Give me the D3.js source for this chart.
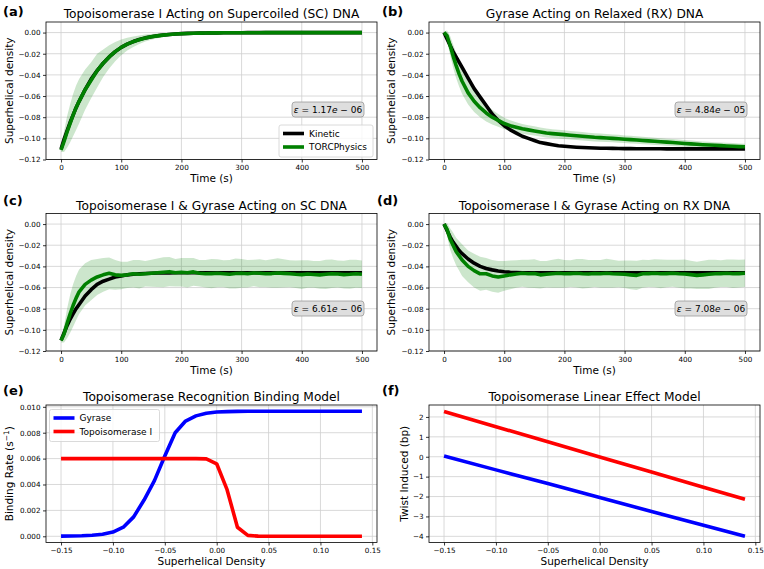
<!DOCTYPE html>
<html>
<head>
<meta charset="utf-8">
<script src="https://cdn.jsdelivr.net/npm/d3@7"></script>
<style>
  body { margin: 0; background: #fff; }
  svg { display: block; font-family: "DejaVu Sans", sans-serif; }
</style>
</head>
<body>
<div id="chart"></div>
<script>
// time axis shared by panels a-d (s)
const time = [0, 5, 10, 15, 20, 25, 30,
    40, 50, 60, 70, 80, 90, 100, 110, 120, 130,
    140, 150, 160, 170, 180, 190, 200, 210, 220, 230,
    240, 250, 260, 270, 280, 290, 300, 310, 320, 330,
    340, 350, 360, 370, 380, 390, 400, 410, 420, 430,
    440, 450, 460, 470, 480, 490, 500];

// (a) Topo I on SC DNA
const kineticA = [-0.110, -0.101, -0.093, -0.085, -0.078, -0.071, -0.065,
    -0.054, -0.044, -0.036, -0.029, -0.023, -0.018, -0.014, -0.011, -0.0085, -0.0066,
    -0.0050, -0.0039, -0.0030, -0.0023, -0.0018, -0.0014, -0.0010, -0.0008, -0.0006, -0.0005,
    -0.0004, -0.0003, -0.00025, -0.0002, -0.00015, -0.0001, -0.0001, -0.00008, -0.00006, -0.00005,
    -0.00004, -0.00003, -0.00003, -0.00002, -0.00002, -0.00001, -0.00001, 0, 0, 0,
    0, 0, 0, 0, 0, 0, 0];
const torcA = [-0.111, -0.103, -0.094, -0.086, -0.078, -0.071, -0.065,
    -0.054, -0.045, -0.036, -0.029, -0.023, -0.018, -0.014, -0.011, -0.0086, -0.0067,
    -0.0051, -0.0040, -0.0031, -0.0024, -0.0018, -0.0014, -0.0011, -0.0008, -0.0006, -0.0005,
    -0.0004, -0.0003, -0.0003, -0.0002, -0.0002, -0.0001, -0.0001, -0.0001, -0.0001, -0.0001,
    0, 0, 0, 0, 0, 0, 0, 0, 0, 0,
    0, 0, 0, 0, 0, 0, 0];
const sdA = [0.002, 0.010, 0.015, 0.018, 0.020, 0.021, 0.021,
    0.019, 0.017, 0.016, 0.013, 0.011, 0.009, 0.0075, 0.006, 0.005, 0.004,
    0.0033, 0.0027, 0.0022, 0.0018, 0.0015, 0.0012, 0.0010, 0.0008, 0.0007, 0.0006,
    0.0005, 0.0004, 0.0004, 0.0003, 0.0003, 0.0003, 0.0003, 0.0002, 0.0002, 0.0002,
    0.0002, 0.0002, 0.0002, 0.0002, 0.0002, 0.0002, 0.0002, 0.0002, 0.0002, 0.0002,
    0.0002, 0.0002, 0.0002, 0.0002, 0.0002, 0.0002, 0.0002];

// (b) Gyrase on RX DNA
const kineticB = [0, -0.006, -0.012, -0.018, -0.023, -0.028, -0.033,
    -0.043, -0.053, -0.061, -0.069, -0.077, -0.083, -0.088, -0.092, -0.095, -0.098,
    -0.100, -0.102, -0.104, -0.105, -0.106, -0.107, -0.1075, -0.108, -0.1084, -0.1087,
    -0.1089, -0.1091, -0.1093, -0.1094, -0.1095, -0.1096, -0.1097, -0.1097, -0.1098, -0.1098,
    -0.1099, -0.1099, -0.1099, -0.110, -0.110, -0.110, -0.110, -0.110, -0.110, -0.110,
    -0.110, -0.110, -0.110, -0.110, -0.110, -0.110, -0.110];
const torcB = [0, -0.003, -0.012, -0.022, -0.031, -0.039, -0.046,
    -0.057, -0.065, -0.071, -0.076, -0.080, -0.083, -0.086, -0.088, -0.0895, -0.091,
    -0.092, -0.093, -0.094, -0.095, -0.0955, -0.096, -0.0965, -0.097, -0.0975, -0.098,
    -0.0985, -0.099, -0.0993, -0.0997, -0.1000, -0.1004, -0.1008, -0.1012, -0.1016, -0.1020,
    -0.1024, -0.1028, -0.1032, -0.1036, -0.1040, -0.1044, -0.1048, -0.1052, -0.1056, -0.1060,
    -0.1063, -0.1066, -0.1069, -0.1072, -0.1075, -0.1078, -0.1080];
const sdB = [0.001, 0.005, 0.009, 0.011, 0.012, 0.012, 0.012,
    0.011, 0.010, 0.009, 0.008, 0.007, 0.006, 0.0055, 0.005, 0.0048, 0.0046,
    0.0045, 0.0044, 0.0043, 0.0042, 0.0042, 0.0041, 0.0041, 0.004, 0.004, 0.004,
    0.0039, 0.0039, 0.0038, 0.0038, 0.0037, 0.0037, 0.0036, 0.0036, 0.0035, 0.0035,
    0.0034, 0.0034, 0.0033, 0.0033, 0.0033, 0.0032, 0.0032, 0.0032, 0.0031, 0.0031,
    0.0031, 0.003, 0.003, 0.003, 0.003, 0.003, 0.003];

// (c) Topo I & gyrase on SC DNA
const kineticC = [-0.110, -0.103, -0.096, -0.090, -0.085, -0.080, -0.076,
    -0.068, -0.062, -0.057, -0.054, -0.052, -0.050, -0.049, -0.048, -0.0475, -0.047,
    -0.0467, -0.0465, -0.0463, -0.0462, -0.0461, -0.046, -0.046, -0.046, -0.046, -0.046,
    -0.046, -0.046, -0.046, -0.046, -0.046, -0.046, -0.046, -0.046, -0.046, -0.046,
    -0.046, -0.046, -0.046, -0.046, -0.046, -0.046, -0.046, -0.046, -0.046, -0.046,
    -0.046, -0.046, -0.046, -0.046, -0.046, -0.046, -0.046];
const torcC = [-0.110, -0.104, -0.094, -0.085, -0.077, -0.070, -0.064,
    -0.057, -0.053, -0.050, -0.048, -0.0465, -0.048, -0.0485, -0.048, -0.047, -0.0475,
    -0.047, -0.0465, -0.046, -0.0455, -0.045, -0.046, -0.0455, -0.046, -0.0452, -0.0465,
    -0.047, -0.0468, -0.0465, -0.047, -0.0475, -0.0468, -0.0465, -0.047, -0.0462, -0.0465,
    -0.047, -0.0468, -0.0462, -0.0466, -0.047, -0.0475, -0.0478, -0.0472, -0.0476, -0.048,
    -0.0475, -0.047, -0.0472, -0.0478, -0.0475, -0.047, -0.0475];
const sdC = [0.002, 0.008, 0.014, 0.018, 0.020, 0.021, 0.021,
    0.020, 0.019, 0.017, 0.016, 0.015, 0.014, 0.013, 0.0125, 0.013, 0.0135,
    0.012, 0.0128, 0.0135, 0.0142, 0.0138, 0.013, 0.0135, 0.014, 0.0132, 0.0126,
    0.013, 0.0138, 0.0133, 0.0128, 0.0135, 0.0142, 0.0136, 0.013, 0.0125, 0.0132,
    0.0128, 0.0135, 0.014, 0.0133, 0.0127, 0.013, 0.0136, 0.0131, 0.0126, 0.0132,
    0.0138, 0.0134, 0.0128, 0.0131, 0.0137, 0.0133, 0.013];

// (d) Topo I & gyrase on RX DNA
const kineticD = [0, -0.006, -0.012, -0.017, -0.021, -0.025, -0.028,
    -0.033, -0.037, -0.040, -0.042, -0.0433, -0.0443, -0.045, -0.0455, -0.0458, -0.046,
    -0.046, -0.046, -0.046, -0.046, -0.046, -0.046, -0.046, -0.046, -0.046, -0.046,
    -0.046, -0.046, -0.046, -0.046, -0.046, -0.046, -0.046, -0.046, -0.046, -0.046,
    -0.046, -0.046, -0.046, -0.046, -0.046, -0.046, -0.046, -0.046, -0.046, -0.046,
    -0.046, -0.046, -0.046, -0.046, -0.046, -0.046, -0.046];
const torcD = [0, -0.005, -0.014, -0.020, -0.026, -0.030, -0.034,
    -0.040, -0.044, -0.047, -0.047, -0.049, -0.050, -0.049, -0.048, -0.0472, -0.0465,
    -0.047, -0.0468, -0.048, -0.0475, -0.047, -0.0465, -0.047, -0.0468, -0.0465, -0.047,
    -0.0472, -0.0468, -0.047, -0.0465, -0.047, -0.0472, -0.0475, -0.048, -0.0485, -0.047,
    -0.0468, -0.0465, -0.047, -0.0468, -0.0465, -0.047, -0.0472, -0.0478, -0.0485, -0.048,
    -0.0475, -0.047, -0.0468, -0.0465, -0.047, -0.0468, -0.0465];
const sdD = [0.001, 0.006, 0.010, 0.012, 0.013, 0.014, 0.015,
    0.015, 0.016, 0.016, 0.015, 0.015, 0.015, 0.014, 0.0135, 0.013, 0.0128,
    0.0132, 0.0136, 0.013, 0.0125, 0.0133, 0.0138, 0.0131, 0.0127, 0.0134, 0.014,
    0.0133, 0.0128, 0.0131, 0.0137, 0.0132, 0.0126, 0.013, 0.0135, 0.0139, 0.0133,
    0.0128, 0.0132, 0.0136, 0.013, 0.0127, 0.0133, 0.0137, 0.0131, 0.0128, 0.0134,
    0.0138, 0.0132, 0.0127, 0.013, 0.0135, 0.0131, 0.013];

// epsilon annotations
const epsMantissa = ["1.17", "4.84", "6.61", "7.08"];
const epsExponent = ["06", "05", "06", "06"];

// (e) binding model
const sigma = [-0.15, -0.14, -0.13, -0.12, -0.11, -0.10, -0.09, -0.08, -0.07, -0.06,
    -0.05, -0.04, -0.03, -0.02, -0.01, 0.00, 0.01, 0.02, 0.03, 0.04,
    0.05, 0.06, 0.07, 0.08, 0.09, 0.10, 0.11, 0.12, 0.13, 0.14];
const gyraseRate = [0.00001, 0.00002, 0.00004, 0.00008, 0.00016, 0.00033, 0.0007, 0.0015, 0.0028, 0.0043,
    0.0062, 0.0080, 0.0089, 0.0093, 0.0095, 0.0096, 0.00963, 0.00965, 0.00966, 0.00966,
    0.00966, 0.00966, 0.00966, 0.00966, 0.00966, 0.00966, 0.00966, 0.00966, 0.00966, 0.00966];
const topoRate = [0.006, 0.006, 0.006, 0.006, 0.006, 0.006, 0.006, 0.006, 0.006, 0.006,
    0.006, 0.006, 0.006, 0.006, 0.00598, 0.0056, 0.0036, 0.0007, 0.00007, 0.00001,
    0, 0, 0, 0, 0, 0, 0, 0, 0, 0];

// (f) linear effect model
const sigmaF = [-0.15, -0.10, -0.05, 0.00, 0.05, 0.10, 0.14];
const topoTwist = [2.27, 1.51, 0.75, -0.01, -0.77, -1.53, -2.14];
const gyraseTwist = [0.04, -0.66, -1.35, -2.05, -2.75, -3.44, -4.0];

// ticks
const timeTicks = [0, 100, 200, 300, 400, 500];
const densityTicks = [0, -0.02, -0.04, -0.06, -0.08, -0.10, -0.12];
const sigmaTicks = [-0.15, -0.10, -0.05, 0.00, 0.05, 0.10, 0.15];
const rateTicks = [0, 0.002, 0.004, 0.006, 0.008, 0.010];
const twistTicks = [-4, -3, -2, -1, 0, 1, 2];

[kineticA, torcA, sdA, kineticB, torcB, sdB, kineticC, torcC, sdC, kineticD, torcD, sdD].forEach((a, i) => {
    if (a.length !== time.length) throw new Error("length mismatch " + i + " " + a.length);
});

const W = 331, H = 137.5;
const LW = 3.6;
const svg = d3.select("#chart").append("svg")
    .attr("width", 764)
    .attr("height", 569);

let clipId = 0;

function panel(o) {
    const g = svg.append("g").attr("transform", `translate(${o.left},${o.top})`);
    const x = d3.scaleLinear().domain(o.xDomain).range([0, W]);
    const y = d3.scaleLinear().domain(o.yDomain).range([H, 0]);

    // grid
    g.append("g").selectAll("line").data(o.xTicks).join("line")
        .attr("x1", d => x(d)).attr("x2", d => x(d))
        .attr("y1", 0).attr("y2", H)
        .attr("stroke", "#cfcfcf").attr("stroke-width", 0.8);
    g.append("g").selectAll("line").data(o.yTicks).join("line")
        .attr("x1", 0).attr("x2", W)
        .attr("y1", d => y(d)).attr("y2", d => y(d))
        .attr("stroke", "#cfcfcf").attr("stroke-width", 0.8);

    const id = "clip" + (clipId++);
    g.append("clipPath").attr("id", id)
        .append("rect").attr("width", W).attr("height", H);
    const plot = g.append("g").attr("clip-path", `url(#${id})`);
    o.draw(plot, x, y);

    // axes
    const xAxis = g.append("g")
        .attr("transform", `translate(0,${H})`)
        .call(d3.axisBottom(x).tickValues(o.xTicks).tickFormat(o.xFmt)
            .tickSize(3).tickPadding(2.5).tickSizeOuter(0));
    const yAxis = g.append("g")
        .call(d3.axisLeft(y).tickValues(o.yTicks).tickFormat(o.yFmt)
            .tickSize(3).tickPadding(2.5).tickSizeOuter(0));
    [xAxis, yAxis].forEach(a => {
        a.select(".domain").remove();
        a.selectAll("text").style("font-family", "DejaVu Sans").style("font-size", "7.2px").attr("fill", "#000");
        a.selectAll("line").attr("stroke", "#000").attr("stroke-width", 0.8);
    });

    g.append("rect")
        .attr("width", W).attr("height", H)
        .attr("fill", "none").attr("stroke", "#000").attr("stroke-width", 0.8);

    // title and labels
    g.append("text")
        .attr("x", W / 2).attr("y", -4)
        .attr("text-anchor", "middle")
        .style("font-size", "12.2px")
        .text(o.title);

    g.append("text")
        .attr("x", W / 2).attr("y", H + 22.5)
        .attr("text-anchor", "middle")
        .style("font-size", "10.5px")
        .text(o.xLabel);

    const yl = g.append("text")
        .attr("transform", `translate(${o.yLabelX},${H / 2}) rotate(-90)`)
        .attr("text-anchor", "middle")
        .style("font-size", "10.5px");
    if (o.yLabelSup) {
        yl.append("tspan").text(o.yLabel);
        yl.append("tspan").attr("dy", -4).style("font-size", "7.5px").text(o.yLabelSup);
        yl.append("tspan").attr("dy", 4).text(")");
    } else {
        yl.text(o.yLabel);
    }

    svg.append("text")
        .attr("x", o.tagX).attr("y", o.tagY)
        .style("font-size", "13px")
        .style("font-weight", "bold")
        .text(o.tag);

    return { g, x, y };
}

function timePanel(o, kin, torc, sd, idx) {
    const p = panel({
        ...o,
        xDomain: [-25, 525], yDomain: [-0.12, 0.01],
        xTicks: timeTicks, yTicks: densityTicks,
        xFmt: d3.format("d"), yFmt: d3.format(".2f"),
        xLabel: "Time (s)", yLabel: "Superhelical density",
        draw: (plot, x, y) => {
            const rows = time.map((t, i) => ({ t, k: kin[i], m: torc[i], s: sd[i] }));
            plot.append("path").datum(rows)
                .attr("fill", "green").attr("fill-opacity", 0.2)
                .attr("d", d3.area().x(d => x(d.t)).y0(d => y(d.m - d.s)).y1(d => y(d.m + d.s)));
            plot.append("path").datum(rows)
                .attr("fill", "none").attr("stroke", "black").attr("stroke-width", LW)
                .attr("stroke-linejoin", "round")
                .attr("d", d3.line().x(d => x(d.t)).y(d => y(d.k)));
            plot.append("path").datum(rows)
                .attr("fill", "none").attr("stroke", "green").attr("stroke-width", LW)
                .attr("stroke-linejoin", "round")
                .attr("d", d3.line().x(d => x(d.t)).y(d => y(d.m)));
        }
    });

    // epsilon box
    const bx = W - 85, by = o.epsY;
    p.g.append("rect")
        .attr("x", bx).attr("y", by).attr("width", 72).attr("height", 15)
        .attr("rx", 3)
        .attr("fill", "#dedede").attr("stroke", "#999").attr("stroke-width", 0.8);
    const et = p.g.append("text")
        .attr("x", bx + 36).attr("y", by + 10.8)
        .attr("text-anchor", "middle")
        .style("font-size", "9px");
    et.append("tspan").style("font-style", "italic").text("ε");
    et.append("tspan").text(" = " + epsMantissa[idx]);
    et.append("tspan").style("font-style", "italic").text("e");
    et.append("tspan").text(" − " + epsExponent[idx]);
    return p;
}

function legend(g, x0, y0, w, items) {
    g.append("rect")
        .attr("x", x0).attr("y", y0).attr("width", w).attr("height", items.length * 13.5 + 5)
        .attr("rx", 2)
        .attr("fill", "#fff").attr("fill-opacity", 0.8)
        .attr("stroke", "#d0d0d0").attr("stroke-width", 0.8);
    items.forEach((it, i) => {
        const cy = y0 + 8.5 + i * 13.5;
        g.append("line")
            .attr("x1", x0 + 4).attr("x2", x0 + 25)
            .attr("y1", cy).attr("y2", cy)
            .attr("stroke", it.color).attr("stroke-width", LW);
        g.append("text")
            .attr("x", x0 + 30).attr("y", cy + 3.2)
            .style("font-size", "9px")
            .text(it.label);
    });
}

// row 1
const pa = timePanel({ left: 46, top: 22, title: "Topoisomerase I Acting on Supercoiled (SC) DNA",
    yLabelX: -33.5, tag: "(a)", tagX: 3, tagY: 16, epsY: 80 }, kineticA, torcA, sdA, 0);
legend(pa.g, W - 98, 103, 94, [
    { label: "Kinetic", color: "black" },
    { label: "TORCPhysics", color: "green" }
]);
timePanel({ left: 429, top: 22, title: "Gyrase Acting on Relaxed (RX) DNA",
    yLabelX: -34.5, tag: "(b)", tagX: 382, tagY: 16, epsY: 80 }, kineticB, torcB, sdB, 1);

// row 2
timePanel({ left: 46, top: 213.5, title: "Topoisomerase I & Gyrase Acting on SC DNA",
    yLabelX: -33.5, tag: "(c)", tagX: 3, tagY: 205, epsY: 87.5 }, kineticC, torcC, sdC, 2);
timePanel({ left: 429, top: 213.5, title: "Topoisomerase I & Gyrase Acting on RX DNA",
    yLabelX: -34.5, tag: "(d)", tagX: 377, tagY: 205, epsY: 87.5 }, kineticD, torcD, sdD, 3);

// row 3
const pe = panel({
    left: 46, top: 405,
    title: "Topoisomerase Recognition Binding Model",
    xDomain: [-0.1645, 0.1545], yDomain: [-0.00048, 0.01014],
    xTicks: sigmaTicks, yTicks: rateTicks,
    xFmt: d3.format(".2f"), yFmt: d3.format(".3f"),
    xLabel: "Superhelical Density", yLabel: "Binding Rate (s", yLabelSup: "−1",
    yLabelX: -33, tag: "(e)", tagX: 3, tagY: 395,
    draw: (plot, x, y) => {
        const rows = sigma.map((s, i) => ({ s, gy: gyraseRate[i], tp: topoRate[i] }));
        plot.append("path").datum(rows)
            .attr("fill", "none").attr("stroke", "blue").attr("stroke-width", LW)
            .attr("stroke-linejoin", "round")
            .attr("d", d3.line().x(d => x(d.s)).y(d => y(d.gy)));
        plot.append("path").datum(rows)
            .attr("fill", "none").attr("stroke", "red").attr("stroke-width", LW)
            .attr("stroke-linejoin", "round")
            .attr("d", d3.line().x(d => x(d.s)).y(d => y(d.tp)));
    }
});
legend(pe.g, 3.5, 4.5, 110, [
    { label: "Gyrase", color: "blue" },
    { label: "Topoisomerase I", color: "red" }
]);

panel({
    left: 429, top: 405,
    title: "Topoisomerase Linear Effect Model",
    xDomain: [-0.1645, 0.1545], yDomain: [-4.31, 2.6],
    xTicks: sigmaTicks, yTicks: twistTicks,
    xFmt: d3.format(".2f"), yFmt: d3.format("d"),
    xLabel: "Superhelical Density", yLabel: "Twist Induced (bp)",
    yLabelX: -21, tag: "(f)", tagX: 382, tagY: 395,
    draw: (plot, x, y) => {
        const rows = sigmaF.map((s, i) => ({ s, tp: topoTwist[i], gy: gyraseTwist[i] }));
        plot.append("path").datum(rows)
            .attr("fill", "none").attr("stroke", "red").attr("stroke-width", LW)
            .attr("d", d3.line().x(d => x(d.s)).y(d => y(d.tp)));
        plot.append("path").datum(rows)
            .attr("fill", "none").attr("stroke", "blue").attr("stroke-width", LW)
            .attr("d", d3.line().x(d => x(d.s)).y(d => y(d.gy)));
    }
});
</script>
</body>
</html>
